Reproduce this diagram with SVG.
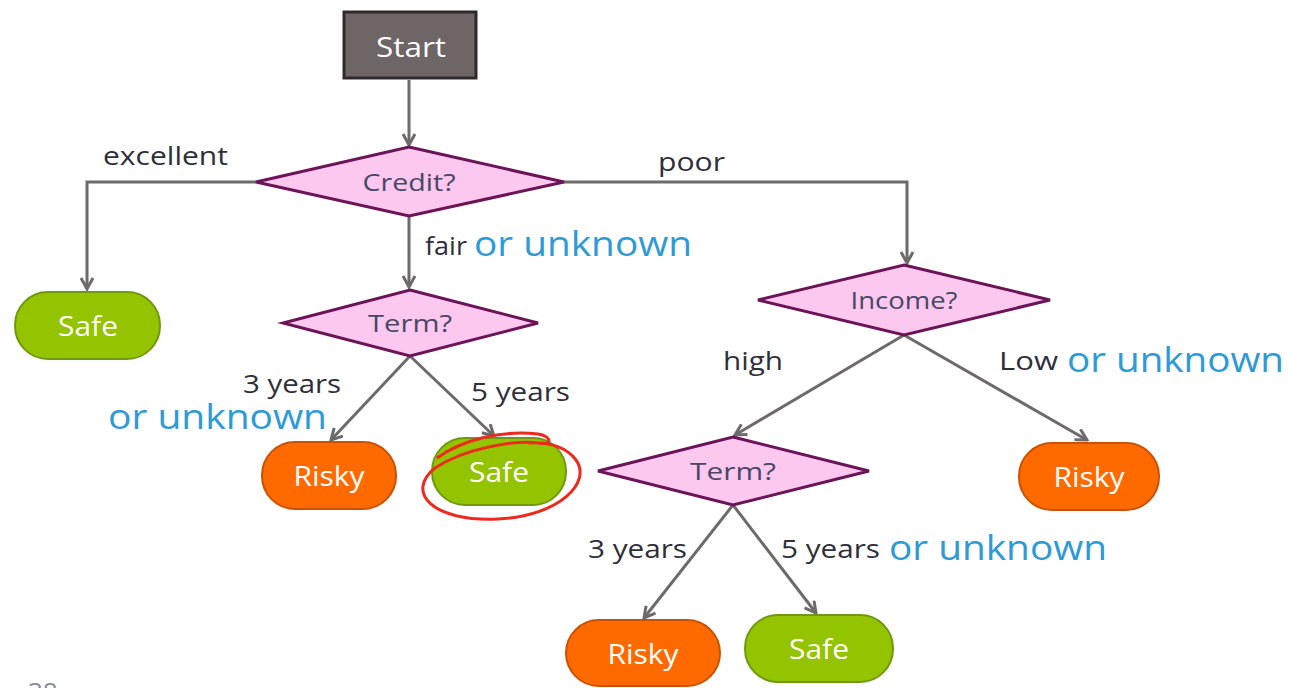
<svg xmlns="http://www.w3.org/2000/svg" width="1289" height="688" viewBox="0 0 1289 688">
<defs>
<marker id="arr" viewBox="0 0 14 14" markerWidth="14" markerHeight="14" refX="12" refY="7" orient="auto" markerUnits="userSpaceOnUse">
<path d="M1,1 L12,7 L1,13" fill="none" stroke="#6d6a6c" stroke-width="3"/>
</marker>
<style>
.con{fill:none;stroke:#6d6a6c;stroke-width:3;marker-end:url(#arr)}
.dia{fill:#fcc8ef;stroke:#6b1457;stroke-width:3}
.safe{fill:#94c300;stroke:#6f9a10;stroke-width:2}
.risky{fill:#ff6a00;stroke:#c95200;stroke-width:2}
.nt{font-family:"Open Sans","Noto Sans",sans-serif;font-size:27px;fill:#ffffff;text-anchor:middle}
.dt{font-family:"Open Sans","Noto Sans",sans-serif;font-size:24px;fill:#4a4766;text-anchor:middle}
.lb{font-family:"Open Sans","Noto Sans",sans-serif;font-size:25px;fill:#2f2f3a}
.bl{font-family:"Open Sans","Noto Sans",sans-serif;font-size:34px;fill:#2e9ad6}
</style>
</defs>
<rect width="1289" height="688" fill="#ffffff"/>
<g id="connectors">
<path class="con" d="M409,80 L409,145"/>
<path class="con" d="M256,182 L87,182 L87,289"/>
<path class="con" d="M564,182 L907,182 L907,263"/>
<path class="con" d="M409,216 L409,287"/>
<path class="con" d="M410,356 L331,440"/>
<path class="con" d="M410,356 L494,436"/>
<path class="con" d="M904,335 L735,435"/>
<path class="con" d="M904,335 L1087,440"/>
<path class="con" d="M733,505 L644,618"/>
<path class="con" d="M733,505 L816,613"/>
</g>
<g id="labels">
<text class="lb" x="103" y="165" textLength="125" lengthAdjust="spacingAndGlyphs">excellent</text>
<text class="lb" x="658" y="171" textLength="67" lengthAdjust="spacingAndGlyphs">poor</text>
<text class="lb" x="425" y="255" textLength="42" lengthAdjust="spacingAndGlyphs">fair</text>
<text class="bl" x="474" y="256" textLength="218" lengthAdjust="spacingAndGlyphs">or unknown</text>
<text class="lb" x="243" y="393" textLength="98" lengthAdjust="spacingAndGlyphs">3 years</text>
<text class="bl" x="108" y="429" textLength="219" lengthAdjust="spacingAndGlyphs">or unknown</text>
<text class="lb" x="471" y="401" textLength="99" lengthAdjust="spacingAndGlyphs">5 years</text>
<text class="lb" x="723" y="370" textLength="60" lengthAdjust="spacingAndGlyphs">high</text>
<text class="lb" x="999" y="370" textLength="59" lengthAdjust="spacingAndGlyphs">Low</text>
<text class="bl" x="1067" y="372" textLength="217" lengthAdjust="spacingAndGlyphs">or unknown</text>
<text class="lb" x="588" y="558" textLength="99" lengthAdjust="spacingAndGlyphs">3 years</text>
<text class="lb" x="781" y="558" textLength="99" lengthAdjust="spacingAndGlyphs">5 years</text>
<text class="bl" x="889" y="560" textLength="218" lengthAdjust="spacingAndGlyphs">or unknown</text>
<text x="28" y="701" font-family="Open Sans, sans-serif" font-size="26" fill="#8a8a9a">38</text>
</g>
<g id="start">
<rect x="344" y="12" width="132" height="66" fill="#6e6566" stroke="#2e2a2b" stroke-width="3"/>
<text class="nt" x="411" y="57" font-size="30" textLength="70" lengthAdjust="spacingAndGlyphs">Start</text>
</g>
<g id="credit">
<polygon class="dia" points="409,147 564,182 409,216 256,182"/>
<text class="dt" x="409" y="191" textLength="93" lengthAdjust="spacingAndGlyphs">Credit?</text>
</g>
<g id="safe1">
<rect class="safe" x="15" y="292" width="145" height="67" rx="33"/>
<text class="nt" x="88" y="336" textLength="60" lengthAdjust="spacingAndGlyphs">Safe</text>
</g>
<g id="term1">
<polygon class="dia" points="410,290 538,323 410,356 283,323"/>
<text class="dt" x="410" y="332" textLength="84" lengthAdjust="spacingAndGlyphs">Term?</text>
</g>
<g id="risky1">
<rect class="risky" x="262" y="442" width="134" height="67" rx="33"/>
<text class="nt" x="329" y="486" textLength="71" lengthAdjust="spacingAndGlyphs">Risky</text>
</g>
<g id="safe2">
<rect class="safe" x="432" y="438" width="134" height="67" rx="33"/>
<text class="nt" x="499" y="482" textLength="60" lengthAdjust="spacingAndGlyphs">Safe</text>
<path d="M437,458 C462,440 500,430 538,434 C552,436 553,446 538,443 C515,440 465,448 435,468 C405,492 432,522 498,519 C560,516 592,482 576,460 C566,447 548,442 528,443" fill="none" stroke="#ee2a1e" stroke-width="3"/>
</g>
<g id="income">
<polygon class="dia" points="904,265 1050,300 904,335 758,300"/>
<text class="dt" x="904" y="309" font-size="22" textLength="107" lengthAdjust="spacingAndGlyphs">Income?</text>
</g>
<g id="risky2">
<rect class="risky" x="1019" y="443" width="140" height="67" rx="33"/>
<text class="nt" x="1089" y="487" textLength="71" lengthAdjust="spacingAndGlyphs">Risky</text>
</g>
<g id="term2">
<polygon class="dia" points="733,437 869,471 733,505 598,471"/>
<text class="dt" x="733" y="480" textLength="86" lengthAdjust="spacingAndGlyphs">Term?</text>
</g>
<g id="risky3">
<rect class="risky" x="566" y="620" width="154" height="66" rx="33"/>
<text class="nt" x="643" y="664" textLength="71" lengthAdjust="spacingAndGlyphs">Risky</text>
</g>
<g id="safe3">
<rect class="safe" x="745" y="615" width="148" height="67" rx="33"/>
<text class="nt" x="819" y="659" textLength="60" lengthAdjust="spacingAndGlyphs">Safe</text>
</g>
</svg>
